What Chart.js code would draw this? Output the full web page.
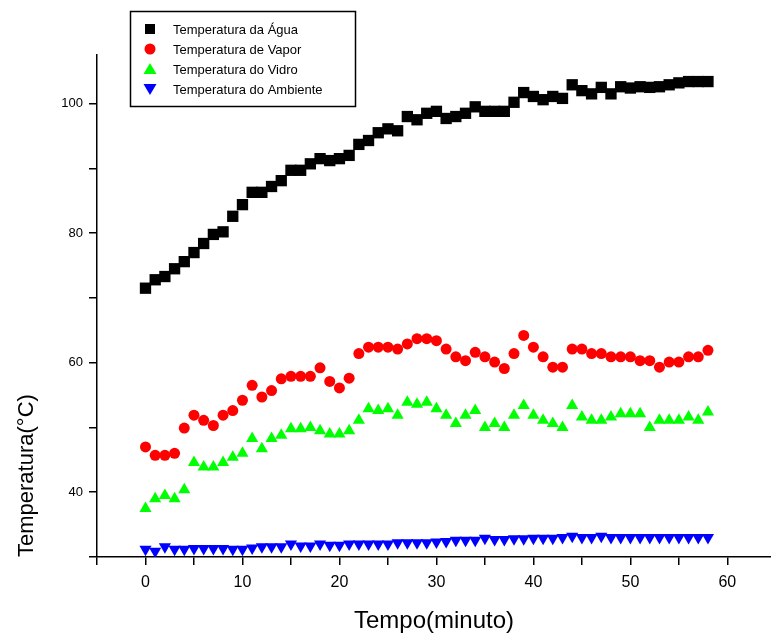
<!DOCTYPE html>
<html>
<head>
<meta charset="utf-8">
<script src="https://cdn.jsdelivr.net/npm/chart.js@4.4.1/dist/chart.umd.min.js"></script>
<style>
  html, body { margin: 0; padding: 0; background: #fff; }
  #wrap { width: 771px; height: 637px; }
</style>
</head>
<body>
<div id="wrap"><canvas id="tempChart" width="771" height="637"></canvas></div>
<script>
// time in minutes
const minutos = [0, 1, 2, 3, 4, 5, 6, 7, 8, 9, 10, 11, 12, 13, 14, 15, 16, 17, 18, 19,
  20, 21, 22, 23, 24, 25, 26, 27, 28, 29, 30, 31, 32, 33, 34, 35, 36, 37, 38, 39,
  40, 41, 42, 43, 44, 45, 46, 47, 48, 49, 50, 51, 52, 53, 54, 55, 56, 57, 58];

// temperatures (°C)
const aguaTemp = [71.5, 72.8, 73.3, 74.5, 75.6, 77.0, 78.4, 79.8, 80.2, 82.6,
  84.4, 86.3, 86.3, 87.2, 88.1, 89.7, 89.7, 90.7, 91.5, 91.2,
  91.5, 92.0, 93.7, 94.3, 95.5, 96.1, 95.8, 98.0, 97.5, 98.5,
  98.8, 97.7, 98.0, 98.5, 99.5, 98.8, 98.8, 98.8, 100.2, 101.7,
  101.1, 100.6, 101.1, 100.8, 102.9, 102.0, 101.5, 102.5, 101.5, 102.6,
  102.4, 102.6, 102.5, 102.6, 102.9, 103.2, 103.4, 103.4, 103.4];

const vaporTemp = [47.0, 45.7, 45.7, 46.0, 49.9, 51.9, 51.1, 50.3, 51.9, 52.6,
  54.2, 56.5, 54.7, 55.7, 57.5, 57.9, 57.9, 57.9, 59.2, 57.1,
  56.1, 57.6, 61.4, 62.4, 62.4, 62.4, 62.1, 62.9, 63.7, 63.7,
  63.4, 62.1, 60.9, 60.3, 61.6, 60.9, 60.1, 59.1, 61.4, 64.2,
  62.4, 60.9, 59.3, 59.3, 62.1, 62.1, 61.4, 61.4, 60.9, 60.9,
  60.9, 60.3, 60.3, 59.3, 60.1, 60.1, 60.9, 60.9, 61.9];

const vidroTemp = [37.5, 39.0, 39.5, 39.0, 40.4, 44.6, 43.9, 43.9, 44.6, 45.4,
  46.0, 48.3, 46.7, 48.3, 48.8, 49.8, 49.8, 50.0, 49.5, 49.0,
  49.0, 49.5, 51.1, 52.9, 52.6, 52.9, 51.9, 53.9, 53.6, 53.9,
  52.9, 51.9, 50.6, 51.9, 52.6, 50.0, 50.6, 50.0, 51.9, 53.4,
  51.9, 51.1, 50.6, 50.0, 53.4, 51.6, 51.1, 51.1, 51.6, 52.1,
  52.1, 52.1, 50.0, 51.1, 51.1, 51.1, 51.6, 51.1, 52.4];

const ambienteTemp = [31.2, 30.9, 31.6, 31.2, 31.2, 31.3, 31.3, 31.3, 31.3, 31.2,
  31.2, 31.4, 31.6, 31.6, 31.6, 32.0, 31.7, 31.7, 32.0, 31.8,
  31.8, 32.0, 32.0, 32.0, 32.0, 32.0, 32.2, 32.2, 32.2, 32.2,
  32.3, 32.4, 32.6, 32.6, 32.6, 32.9, 32.7, 32.7, 32.8, 32.8,
  32.9, 32.9, 32.9, 33.0, 33.2, 33.0, 33.0, 33.2, 33.0, 33.0,
  33.0, 33.0, 33.0, 33.0, 33.0, 33.0, 33.0, 33.0, 33.0];

const seriesNames = ['Temperatura da Água', 'Temperatura de Vapor', 'Temperatura do Vidro', 'Temperatura do Ambiente'];
const xTickValues = [-5, 0, 5, 10, 15, 20, 25, 30, 35, 40, 45, 50, 55, 60];
const xTickLabels = [0, 10, 20, 30, 40, 50, 60];
const yTickValues = [30, 40, 50, 60, 70, 80, 90, 100];
const yTickLabels = [40, 60, 80, 100];

const toPoints = (vals) => minutos.map((m, i) => ({ x: m, y: vals[i] }));

// boxed legend drawn over the plot, top-left
const boxLegend = {
  id: 'boxLegend',
  afterDraw(chart) {
    const ctx = chart.ctx;
    ctx.save();
    ctx.strokeStyle = '#000';
    ctx.lineWidth = 1.5;
    ctx.strokeRect(130.5, 11.5, 225, 95);
    const rows = [29, 49, 69, 89];
    chart.data.datasets.forEach((ds, i) => {
      const y = rows[i];
      const x = 150;
      ctx.fillStyle = ds.backgroundColor;
      ctx.beginPath();
      if (i === 0) {
        ctx.rect(x - 5, y - 5, 10, 10);
      } else if (i === 1) {
        ctx.arc(x, y, 5.5, 0, Math.PI * 2);
      } else if (i === 2) {
        ctx.moveTo(x, y - 6); ctx.lineTo(x + 6.5, y + 5); ctx.lineTo(x - 6.5, y + 5);
      } else {
        ctx.moveTo(x, y + 6); ctx.lineTo(x + 6.5, y - 5); ctx.lineTo(x - 6.5, y - 5);
      }
      ctx.closePath();
      ctx.fill();
      ctx.fillStyle = '#000';
      ctx.font = '13px "Liberation Sans Narrow", "Liberation Sans", Arial, sans-serif';
      ctx.textBaseline = 'middle';
      ctx.fillText(ds.label, 173, y + 1);
    });
    ctx.restore();
  }
};

const ctx = document.getElementById('tempChart').getContext('2d');

const tempChart = new Chart(ctx, {
  type: 'scatter',
  data: {
    datasets: [
      { label: seriesNames[0], data: toPoints(aguaTemp), backgroundColor: '#000000', borderColor: '#000000',
        pointStyle: 'rect', pointRadius: 8, pointBorderWidth: 0 },
      { label: seriesNames[1], data: toPoints(vaporTemp), backgroundColor: '#ff0000', borderColor: '#ff0000',
        pointStyle: 'circle', pointRadius: 5.5, pointBorderWidth: 0 },
      { label: seriesNames[2], data: toPoints(vidroTemp), backgroundColor: '#00ff00', borderColor: '#00ff00',
        pointStyle: 'triangle', pointRadius: 7, pointBorderWidth: 0 },
      { label: seriesNames[3], data: toPoints(ambienteTemp), backgroundColor: '#0000ff', borderColor: '#0000ff',
        pointStyle: 'triangle', pointRotation: 180, pointRadius: 7, pointBorderWidth: 0 }
    ]
  },
  options: {
    responsive: false,
    animation: false,
    layout: { autoPadding: false, padding: { top: 55, right: 0, left: 0, bottom: 0 } },
    plugins: {
      legend: { display: false },
      tooltip: { enabled: false }
    },
    scales: {
      x: {
        type: 'linear',
        min: -5,
        max: 64.5,
        afterBuildTicks: (axis) => { axis.ticks = xTickValues.map(v => ({ value: v })); },
        afterFit: (axis) => { axis.height = 80; },
        ticks: {
          autoSkip: false,
          maxRotation: 0,
          padding: 8,
          color: '#000',
          font: { family: '"Liberation Sans Narrow", "Liberation Sans", Arial, sans-serif', size: 16 },
          callback: (v) => xTickLabels.includes(v) ? String(v) : ''
        },
        grid: { drawOnChartArea: false, drawTicks: true, tickLength: 8, color: '#000', lineWidth: 1.5 },
        border: { display: true, color: '#000', width: 1.5 },
        title: {
          display: true,
          text: 'Tempo(minuto)',
          color: '#000',
          padding: { top: 0, bottom: 1 },
          font: { family: '"Liberation Sans Narrow", "Liberation Sans", Arial, sans-serif', size: 24 }
        }
      },
      y: {
        type: 'linear',
        min: 30,
        max: 107.5,
        afterBuildTicks: (axis) => { axis.ticks = yTickValues.map(v => ({ value: v })); },
        afterFit: (axis) => { axis.width = 97; },
        ticks: {
          autoSkip: false,
          padding: 6,
          color: '#000',
          font: { family: '"Liberation Sans", Arial, sans-serif', size: 13 },
          callback: (v) => yTickLabels.includes(v) ? String(v) : ''
        },
        grid: { drawOnChartArea: false, drawTicks: true, tickLength: 8, color: '#000', lineWidth: 1.5 },
        border: { display: true, color: '#000', width: 1.5 },
        title: {
          display: true,
          text: 'Temperatura(°C)',
          align: 'start',
          color: '#000',
          padding: { top: 14, bottom: 0 },
          font: { family: '"Liberation Sans", Arial, sans-serif', size: 22 }
        }
      }
    }
  },
  plugins: [boxLegend]
});
</script>
</body>
</html>
